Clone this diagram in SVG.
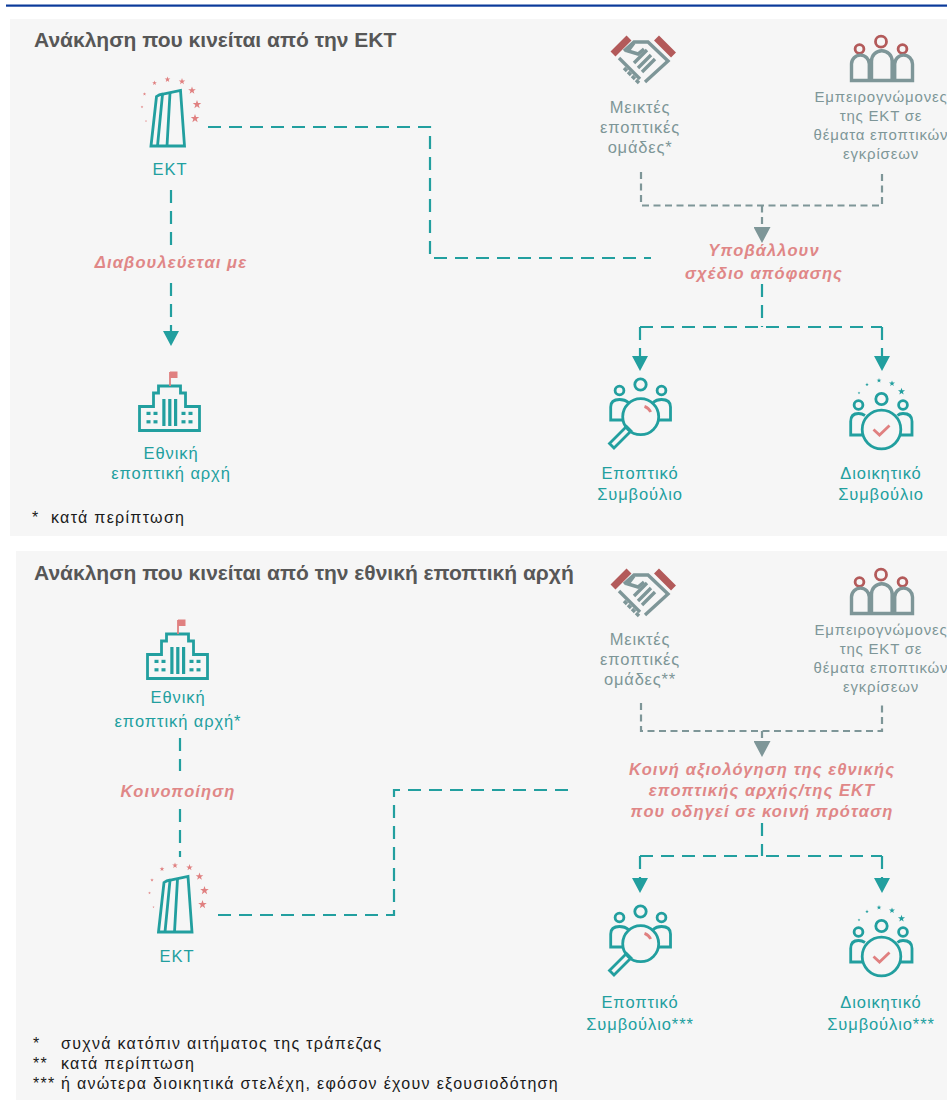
<svg xmlns="http://www.w3.org/2000/svg" xmlns:xlink="http://www.w3.org/1999/xlink" width="947" height="1104" viewBox="0 0 947 1104">
<style>
.panel{fill:#f6f6f6}
.title{font-family:"Liberation Sans",Arial,sans-serif;font-weight:bold;font-size:21px;fill:#575757}
.lbl{font-family:"Liberation Sans",Arial,sans-serif;font-size:16.5px;fill:#229f9f;letter-spacing:0.9px;text-anchor:middle}
.glbl{font-family:"Liberation Sans",Arial,sans-serif;font-size:16.5px;fill:#7e9698;letter-spacing:0.8px;text-anchor:middle}
.elbl{font-family:"Liberation Sans",Arial,sans-serif;font-size:15px;fill:#7e9698;letter-spacing:0.8px;text-anchor:middle}
.act{font-family:"Liberation Sans",Arial,sans-serif;font-size:16.5px;font-weight:bold;font-style:italic;fill:#e08787;letter-spacing:1.1px;text-anchor:middle}
.fn{font-family:"Liberation Sans",Arial,sans-serif;font-size:16px;fill:#1a1a1a;letter-spacing:1.3px}
.teal{fill:none;stroke:#229f9f;stroke-width:2.2;stroke-dasharray:13 8}
.gray{fill:none;stroke:#7e9698;stroke-width:2.2;stroke-dasharray:7 4.5}
.ti{fill:none;stroke:#229f9f;stroke-width:2.8}
.tf{fill:#229f9f}
.pk{fill:#e08080}
.pks{fill:none;stroke:#e08080;stroke-width:2.8}
.gs{fill:none;stroke:#7e9698;stroke-width:3.4}
.rs{fill:none;stroke:#b35a5a;stroke-width:2.8}
</style>
<defs>
<polygon id="star" points="0,-1 0.235,-0.324 0.951,-0.309 0.38,0.124 0.588,0.809 0,0.4 -0.588,0.809 -0.38,0.124 -0.951,-0.309 -0.235,-0.324"/>
<marker id="ahT" viewBox="0 0 15 16" refX="0" refY="8" markerWidth="15" markerHeight="16" markerUnits="userSpaceOnUse" orient="auto">
<path d="M0,0 L15,8 L0,16 Z" fill="#229f9f"/>
</marker>
<marker id="ahG" viewBox="0 0 16 17" refX="0" refY="8.5" markerWidth="16" markerHeight="17" markerUnits="userSpaceOnUse" orient="auto">
<path d="M0,0 L16,8.5 L0,17 Z" fill="#7e9698"/>
</marker>
<g id="ecbIcon">
<path class="ti" stroke-width="3.4" d="M151,146 L156.5,96.5 Q159,94.5 163,94 L180.5,90.5 L184.5,146 Z"/>
<path class="ti" stroke-width="3.2" d="M162.5,94.3 L157.5,146 M170,92.8 L167,146"/>
<g class="pk">
<use xlink:href="#star" transform="translate(146,121) scale(1.1)"/>
<use xlink:href="#star" transform="translate(142,107) scale(1.4)"/>
<use xlink:href="#star" transform="translate(144.5,94) scale(1.8)"/>
<use xlink:href="#star" transform="translate(154.5,83) scale(2.5)"/>
<use xlink:href="#star" transform="translate(167.5,79.5) scale(3)"/>
<use xlink:href="#star" transform="translate(182,81.5) scale(3.4)"/>
<use xlink:href="#star" transform="translate(192,90.5) scale(4)"/>
<use xlink:href="#star" transform="translate(197,104.5) scale(4.5)"/>
<use xlink:href="#star" transform="translate(195,118.5) scale(4.5)"/>
</g>
</g>
<g id="ncaIcon">
<path class="ti" stroke-width="3.2" d="M139.5,430.5 V406.5 H153.5 V393 H158.5 V386 H180.5 V393 H185.5 V406.5 H199.5 V430.5 Z"/>
<line x1="170" y1="386" x2="170" y2="372" stroke="#e08080" stroke-width="1.8"/>
<rect class="pk" x="170" y="371.5" width="7.5" height="6.5"/>
<g class="tf">
<rect x="162.3" y="399" width="3.2" height="27"/>
<rect x="168.2" y="399" width="3.2" height="27"/>
<rect x="174" y="399" width="3.2" height="27"/>
<rect x="146.5" y="411.8" width="4" height="3.2"/>
<rect x="153.5" y="411.8" width="4" height="3.2"/>
<rect x="181.5" y="411.8" width="4" height="3.2"/>
<rect x="188.5" y="411.8" width="4" height="3.2"/>
<rect x="146.5" y="420.2" width="4" height="3.2"/>
<rect x="153.5" y="420.2" width="4" height="3.2"/>
<rect x="181.5" y="420.2" width="4" height="3.2"/>
<rect x="188.5" y="420.2" width="4" height="3.2"/>
</g>
</g>
<g id="jstIcon">
<path d="M613,54 L629,38 M656.5,38 L673.5,55" stroke="#b35a5a" stroke-width="7" fill="none"/>
<path class="gs" d="M624,51 L634,42 L648,42 L668,61 L645,82"/>
<path class="gs" d="M619,58 L640,79"/>
<path class="gs" d="M634,43 L628,51 L638,54 L644,49"/>
<path class="gs" d="M634,63 L647,50 M638,68 L651,55 M642,72 L655,59"/>
<path class="gs" d="M624,68 L627,71 M628,72 L631,75 M632,76 L635,79 M636,80 L639,83"/>
</g>
<g id="expIcon">
<circle class="rs" cx="859.5" cy="49" r="4.4"/>
<circle class="rs" cx="881" cy="41.7" r="5.5"/>
<circle class="rs" cx="902.5" cy="49" r="4.4"/>
<path class="gs" stroke-width="2.8" d="M851.5,80.5 V64 A8.9,8.9 0 0 1 869.3,64 V80.5 Z M871.5,80.5 V61 A10.3,10.3 0 0 1 892.1,61 V80.5 Z M894.7,80.5 V64 A8.9,8.9 0 0 1 912.5,64 V80.5 Z"/>
</g>
<g id="sbIcon">
<circle class="ti" cx="619.5" cy="390.5" r="4.4"/>
<circle class="ti" cx="640.5" cy="384.5" r="5.7"/>
<circle class="ti" cx="661.5" cy="390.5" r="4.4"/>
<path class="ti" d="M623,420 H610.7 V407 Q610.7,399.5 619.5,399.5 Q625,399.5 628.5,402.5"/>
<path class="ti" d="M658,420 H670.5 V407 Q670.5,399.5 661.5,399.5 Q656.5,399.5 653,402.5"/>
<circle class="ti" cx="640.7" cy="416.7" r="18"/>
<path class="ti" stroke-width="2.4" d="M626.5,426.5 L631,431 L614,448 L609.5,443.5 Z"/>
<path class="pks" d="M644.5,406.4 A11,11 0 0 1 650.7,412"/>
</g>
<g id="gcIcon">
<g class="tf">
<use xlink:href="#star" transform="translate(859,393) scale(1.4)"/>
<use xlink:href="#star" transform="translate(867,384.5) scale(1.9)"/>
<use xlink:href="#star" transform="translate(879,380.5) scale(2.5)"/>
<use xlink:href="#star" transform="translate(892,383.5) scale(3.1)"/>
<use xlink:href="#star" transform="translate(901.5,391.5) scale(3.7)"/>
</g>
<circle class="ti" cx="858.5" cy="405" r="4.4"/>
<circle class="ti" cx="881.5" cy="399" r="5.7"/>
<circle class="ti" cx="903" cy="405" r="4.4"/>
<path class="ti" d="M862,435 H850.7 V421.5 Q850.7,413.5 858.5,413.5 Q862,413.5 865,415.5"/>
<path class="ti" d="M901,435 H912 V421.5 Q912,413.5 903,413.5 Q899.5,413.5 897.5,415.5"/>
<circle class="ti" cx="881.5" cy="429.5" r="19.3"/>
<path class="pks" stroke-width="3.2" d="M873.5,429.5 L879.5,435 L889.5,425.5"/>
</g>
</defs>

<rect x="6" y="4.5" width="941" height="2.2" fill="#0b3a9a"/>
<rect class="panel" x="10" y="19" width="937" height="517"/>
<rect class="panel" x="16" y="551" width="931" height="549"/>

<text class="title" x="34" y="47">Ανάκληση που κινείται από την ΕΚΤ</text>
<text class="title" x="34" y="580">Ανάκληση που κινείται από την εθνική εποπτική αρχή</text>

<g id="connectors">
<path class="teal" d="M171,190 V246"/>
<path class="teal" d="M171,283 V331" marker-end="url(#ahT)"/>
<path class="teal" d="M208,127 H430 V258 H651"/>
<path class="gray" d="M641,172 V205.5 H882 V172"/>
<path class="gray" d="M762,205.5 V227" marker-end="url(#ahG)"/>
<path class="teal" d="M762,284 V327"/>
<path class="teal" d="M640,327 H882"/>
<path class="teal" d="M640,327 V356" marker-end="url(#ahT)"/>
<path class="teal" d="M882,327 V356" marker-end="url(#ahT)"/>
<text class="act" x="171" y="268">Διαβουλεύεται με</text>
<text class="act" x="764" y="256">Υποβάλλουν</text>
<text class="act" x="764" y="279">σχέδιο απόφασης</text>

<path class="teal" d="M180,738 V771"/>
<path class="teal" d="M180,809 V857"/>
<path class="teal" d="M218,915 H394 V790 H568"/>
<path class="gray" d="M641,703 V731 H882 V703"/>
<path class="gray" d="M762,731 V741" marker-end="url(#ahG)"/>
<path class="teal" d="M762,823 V856"/>
<path class="teal" d="M640,856 H882"/>
<path class="teal" d="M640,856 V878" marker-end="url(#ahT)"/>
<path class="teal" d="M882,856 V878" marker-end="url(#ahT)"/>
<text class="act" x="178" y="797">Κοινοποίηση</text>
<text class="act" x="762" y="775">Κοινή αξιολόγηση της εθνικής</text>
<text class="act" x="762" y="796">εποπτικής αρχής/της ΕΚΤ</text>
<text class="act" x="762" y="817">που οδηγεί σε κοινή πρόταση</text>
</g>

<g id="ecb-top">
<use xlink:href="#ecbIcon"/>
<text class="lbl" x="170" y="175">ΕΚΤ</text>
</g>
<g id="nca-top">
<use xlink:href="#ncaIcon"/>
<text class="lbl" x="171" y="459">Εθνική</text>
<text class="lbl" x="171" y="479">εποπτική αρχή</text>
</g>
<g id="jst-top">
<use xlink:href="#jstIcon"/>
<text class="glbl" x="640" y="113">Μεικτές</text>
<text class="glbl" x="640" y="133">εποπτικές</text>
<text class="glbl" x="640" y="153">ομάδες*</text>
</g>
<g id="experts-top">
<use xlink:href="#expIcon"/>
<text class="elbl" x="881" y="102">Εμπειρογνώμονες</text>
<text class="elbl" x="881" y="121">της ΕΚΤ σε</text>
<text class="elbl" x="881" y="140">θέματα εποπτικών</text>
<text class="elbl" x="881" y="159">εγκρίσεων</text>
</g>
<g id="sb-top">
<use xlink:href="#sbIcon"/>
<text class="lbl" x="640" y="479">Εποπτικό</text>
<text class="lbl" x="640" y="500">Συμβούλιο</text>
</g>
<g id="gc-top">
<use xlink:href="#gcIcon"/>
<text class="lbl" x="881" y="479">Διοικητικό</text>
<text class="lbl" x="881" y="500">Συμβούλιο</text>
</g>
<g id="footnote-top">
<text class="fn" x="32" y="523">*</text>
<text class="fn" x="51" y="523">κατά περίπτωση</text>
</g>

<g id="nca-bottom">
<use xlink:href="#ncaIcon" transform="translate(8,248)"/>
<text class="lbl" x="178" y="703">Εθνική</text>
<text class="lbl" x="178" y="727">εποπτική αρχή*</text>
</g>
<g id="ecb-bottom">
<use xlink:href="#ecbIcon" transform="translate(7.5,786)"/>
<text class="lbl" x="177" y="962">ΕΚΤ</text>
</g>
<g id="jst-bottom">
<use xlink:href="#jstIcon" transform="translate(0,533)"/>
<text class="glbl" x="640" y="645">Μεικτές</text>
<text class="glbl" x="640" y="665">εποπτικές</text>
<text class="glbl" x="640" y="685">ομάδες**</text>
</g>
<g id="experts-bottom">
<use xlink:href="#expIcon" transform="translate(0,533)"/>
<text class="elbl" x="881" y="635">Εμπειρογνώμονες</text>
<text class="elbl" x="881" y="654">της ΕΚΤ σε</text>
<text class="elbl" x="881" y="673">θέματα εποπτικών</text>
<text class="elbl" x="881" y="692">εγκρίσεων</text>
</g>
<g id="sb-bottom">
<use xlink:href="#sbIcon" transform="translate(0,527)"/>
<text class="lbl" x="640" y="1008">Εποπτικό</text>
<text class="lbl" x="640" y="1030">Συμβούλιο***</text>
</g>
<g id="gc-bottom">
<use xlink:href="#gcIcon" transform="translate(0,527)"/>
<text class="lbl" x="881" y="1008">Διοικητικό</text>
<text class="lbl" x="881" y="1030">Συμβούλιο***</text>
</g>
<g id="footnotes-bottom">
<text class="fn" x="33" y="1049">*</text>
<text class="fn" x="61" y="1049">συχνά κατόπιν αιτήματος της τράπεζας</text>
<text class="fn" x="33" y="1069" letter-spacing="0.5">**</text>
<text class="fn" x="61" y="1069">κατά περίπτωση</text>
<text class="fn" x="33" y="1089" letter-spacing="0.3">***</text>
<text class="fn" x="61" y="1089">ή ανώτερα διοικητικά στελέχη, εφόσον έχουν εξουσιοδότηση</text>
</g>
</svg>
